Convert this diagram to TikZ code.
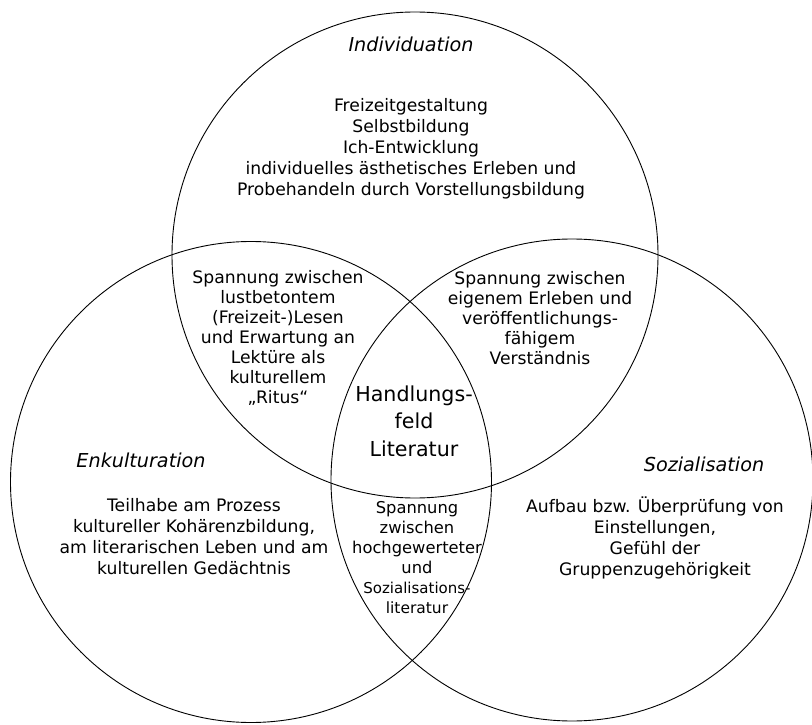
\documentclass[tikz,border=0pt]{standalone}
\usepackage{fontspec}
\setmainfont{DejaVu Sans}
\begin{document}
\begin{tikzpicture}[x=1pt,y=-1pt,
  ring/.style={draw, circle, line width=0.9pt, inner sep=0pt},
  txt/.style={align=center, font=\fontsize{17.2}{21}\selectfont, inner sep=0pt},
  head/.style={font=\fontsize{19.2}{22}\selectfont\itshape, inner sep=0pt},
  core/.style={align=center, font=\fontsize{20.6}{27.5}\selectfont, inner sep=0pt},
  small/.style={align=center, font=\fontsize{16.3}{20}\selectfont, inner sep=0pt}]
\useasboundingbox (0,0) rectangle (812,725);
\node[ring, minimum size=486pt] (ind) at (415,255) {};
\node[ring, minimum size=481pt] (enk) at (251,482) {};
\node[ring, minimum size=482pt] (soz) at (572,480) {};

\node[head] (indT) at (411,44) {Individuation};
\node[txt] (indX) at (411,149) {Freizeitgestaltung\\Selbstbildung\\Ich-Entwicklung\\individuelles ästhetisches Erleben und\\Probehandeln durch Vorstellungsbildung};

\node[txt, font=\fontsize{17.2}{20}\selectfont] (lensL) at (278,338) {Spannung zwischen\\lustbetontem\\(Freizeit-)Lesen\\und Erwartung an\\Lektüre als\\kulturellem\\„Ritus“};
\node[txt, font=\fontsize{17.2}{20}\selectfont] (lensR) at (540,318) {Spannung zwischen\\eigenem Erleben und\\veröffentlichungs-\\fähigem\\Verständnis};

\node[core] (core) at (414,421) {Handlungs-\\feld\\Literatur};

\node[head] (enkT) at (141,460) {Enkulturation};
\node[txt] (enkX) at (194,537) {Teilhabe am Prozess\\kultureller Kohärenzbildung,\\am literarischen Leben und am\\kulturellen Gedächtnis};

\node[head] (sozT) at (704,464) {Sozialisation};
\node[txt] (sozX) at (655,538) {Aufbau bzw. Überprüfung von\\Einstellungen,\\Gefühl der\\Gruppenzugehörigkeit};

\node[small] (lensB) at (417,558) {Spannung\\zwischen\\hochgewerteter\\und\\{\fontsize{15}{19}\selectfont Sozialisations-}\\{\fontsize{15.5}{18}\selectfont literatur}};
\end{tikzpicture}
\end{document}
